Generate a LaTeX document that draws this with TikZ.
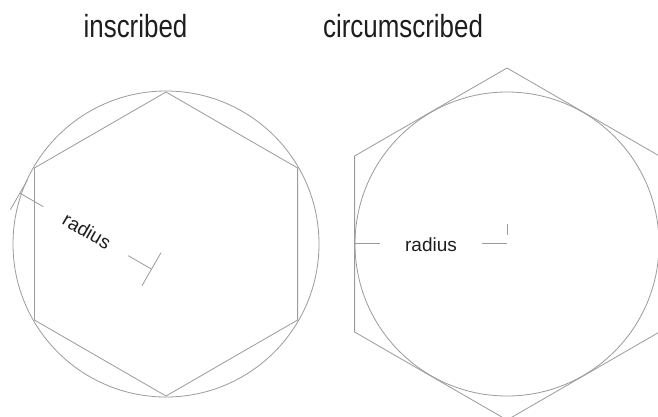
\documentclass[tikz,border=0pt]{standalone}
\usepackage{fontspec}
\setmainfont{Liberation Sans}
\usetikzlibrary{calc}
\definecolor{linegray}{RGB}{155,155,155}
\definecolor{textdark}{RGB}{30,30,30}
\tikzset{
  geom/.style={draw=linegray, line width=0.8pt},
  dimline/.style={draw=linegray, line width=0.8pt},
  title/.style={font=\fontsize{32}{36}\selectfont, text=textdark, xscale=0.81, anchor=base, inner sep=0pt},
  dimlabel/.style={font=\fontsize{19}{22}\selectfont, text=textdark, inner sep=0pt}
}
\begin{document}
\begin{tikzpicture}[x=1pt,y=-1pt]
\clip (0,0) rectangle (658,416);
\fill[white] (0,0) rectangle (658,416);
% titles
\node[title] (t1) at (135.5,37) {inscribed};
\node[title] (t2) at (403,37) {circumscribed};
% ---------- inscribed ----------
\coordinate (Lc) at (166,244);
\draw[geom] (Lc) circle[radius=153pt];
\draw[geom] ($(Lc)+(0,-152)$) -- ($(Lc)+(131.6,-76)$) -- ($(Lc)+(131.6,76)$)
  -- ($(Lc)+(0,152)$) -- ($(Lc)+(-131.6,76)$) -- ($(Lc)+(-131.6,-76)$) -- cycle;
% dimension
\coordinate (o1) at (27.4,180.1);
\coordinate (o2) at (10.4,209.6);
\coordinate (i1) at (161,252.7);
\coordinate (i2) at (142,285.6);
\coordinate (d1) at (19.9,193.1);
\coordinate (d2) at (43.2,206.6);
\coordinate (d3) at (128.1,255.6);
\coordinate (d4) at (151.5,269.1);
\draw[dimline] (o1) -- (o2);
\draw[dimline] (i1) -- (i2);
\draw[dimline] (d1) -- (d2);
\draw[dimline] (d3) -- (d4);
\node[dimlabel, rotate=-30] (r1) at (87,231) {radius};
% ---------- circumscribed ----------
\coordinate (Rc) at (507,244);
\draw[geom] (Rc) circle[radius=152pt];
\draw[geom] ($(Rc)+(0,-176)$) -- ($(Rc)+(152.4,-88)$) -- ($(Rc)+(152.4,88)$)
  -- ($(Rc)+(0,176)$) -- ($(Rc)+(-152.4,88)$) -- ($(Rc)+(-152.4,-88)$) -- cycle;
\coordinate (e1) at (355,243.5);
\coordinate (e2) at (380,243.5);
\coordinate (e3) at (482,243.5);
\coordinate (e4) at (507,243.5);
\coordinate (k1) at (507.7,224);
\coordinate (k2) at (507.7,235);
\draw[dimline] (e1) -- (e2);
\draw[dimline] (e3) -- (e4);
\draw[dimline] (k1) -- (k2);
\node[dimlabel, anchor=base] (r2) at (431,251.5) {radius};
\end{tikzpicture}
\end{document}
